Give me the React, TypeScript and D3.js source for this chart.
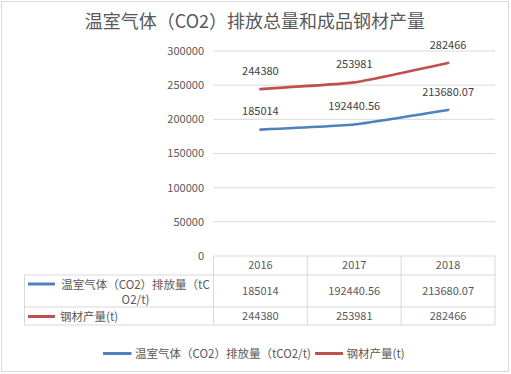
import React from "react";
import * as d3 from "d3";

const categories = ["2016", "2017", "2018"];
const co2Values = [185014, 192440.56, 213680.07];
const steelValues = [244380, 253981, 282466];
const co2Labels = ["185014", "192440.56", "213680.07"];
const steelLabels = ["244380", "253981", "282466"];
const yTicks = [0, 50000, 100000, 150000, 200000, 250000, 300000];
const title = "温室气体（CO2）排放总量和成品钢材产量";
const co2Name = "温室气体（CO2）排放量（tCO2/t)";
const co2NameLine1 = "温室气体（CO2）排放量（tC";
const co2NameLine2 = "O2/t)";
const steelName = "钢材产量(t)";

const FONT = "'Noto Sans CJK SC', 'Noto Sans', sans-serif";
const TXT = "#595959";
const GRID = "#d9d9d9";
const BLUE = "#4f81bd";
const RED = "#c0504d";

export default function App() {
  const W = 511, H = 374;
  const left = 213.5, right = 495, top = 51, bottom = 256;
  const x = d3.scaleBand().domain(categories).range([left, right]);
  const y = d3.scaleLinear().domain([0, 300000]).range([bottom, top]);
  const cx = (c: string) => (x(c) as number) + x.bandwidth() / 2;
  const line = d3
    .line<number>()
    .x((_, i) => cx(categories[i]))
    .y((d) => y(d))
    .curve(d3.curveCardinal.tension(0.6));

  const rowTop = bottom, r0 = 275, r1 = 307, r2 = 325;
  const tableLeft = 24.5;

  return (
    <svg width={W} height={H} style={{ position: "absolute", left: 0, top: 0 }} fontFamily={FONT}>
      <rect x={0} y={0} width={W} height={H} fill="#fff" />
      <rect x={1.5} y={1.5} width={507} height={370} fill="none" stroke={GRID} />
      <text x={255} y={28} textAnchor="middle" fontSize={18} fill={TXT}>{title}</text>

      {yTicks.map((t) => (
        <g key={t}>
          {t > 0 && <line x1={left} x2={right} y1={y(t)} y2={y(t)} stroke={GRID} />}
          <text x={204} y={y(t)} dy="0.35em" textAnchor="end" fontSize={11} fill={TXT}>{t}</text>
        </g>
      ))}

      {/* table */}
      <g stroke={GRID} fill="none">
        <line x1={left} x2={right} y1={rowTop} y2={rowTop} />
        <line x1={tableLeft} x2={right} y1={r0} y2={r0} />
        <line x1={tableLeft} x2={right} y1={r1} y2={r1} />
        <line x1={tableLeft} x2={right} y1={r2} y2={r2} />
        <line x1={tableLeft} x2={tableLeft} y1={r0} y2={r2} />
        {[...categories.map((c) => x(c) as number), right].map((v, i) => (
          <line key={i} x1={v} x2={v} y1={rowTop} y2={r2} />
        ))}
      </g>
      {categories.map((c, i) => (
        <g key={c} fontSize={11} fill={TXT} textAnchor="middle">
          <text x={cx(c)} y={(rowTop + r0) / 2} dy="0.35em">{c}</text>
          <text x={cx(c)} y={(r0 + r1) / 2} dy="0.35em">{co2Labels[i]}</text>
          <text x={cx(c)} y={(r1 + r2) / 2} dy="0.35em">{steelLabels[i]}</text>
        </g>
      ))}
      <line x1={28} x2={55} y1={284} y2={284} stroke={BLUE} strokeWidth={3} />
      <text x={135.5} y={285} dy="0.35em" textAnchor="middle" fontSize={11.5} fill={TXT}>{co2NameLine1}</text>
      <text x={135.5} y={299.5} dy="0.35em" textAnchor="middle" fontSize={11.5} fill={TXT}>{co2NameLine2}</text>
      <line x1={28} x2={55} y1={316.5} y2={316.5} stroke={RED} strokeWidth={3} />
      <text x={60} y={316.5} dy="0.35em" fontSize={11.5} fill={TXT}>{steelName}</text>

      {/* lines */}
      <path d={line(co2Values) || ""} fill="none" stroke={BLUE} strokeWidth={2.75} strokeLinecap="round" />
      <path d={line(steelValues) || ""} fill="none" stroke={RED} strokeWidth={2.75} strokeLinecap="round" />
      {categories.map((c, i) => (
        <g key={c} fontSize={11} fill="#404040" textAnchor="middle">
          <text x={cx(c)} y={y(co2Values[i]) - 18} dy="0.35em">{co2Labels[i]}</text>
          <text x={cx(c)} y={y(steelValues[i]) - 18} dy="0.35em">{steelLabels[i]}</text>
        </g>
      ))}

      {/* legend */}
      <line x1={103} x2={131.5} y1={353.5} y2={353.5} stroke={BLUE} strokeWidth={3} />
      <text x={135} y={353.5} dy="0.35em" fontSize={11.5} fill={TXT}>{co2Name}</text>
      <line x1={315} x2={343} y1={353.5} y2={353.5} stroke={RED} strokeWidth={3} />
      <text x={346.5} y={353.5} dy="0.35em" fontSize={11.5} fill={TXT}>{steelName}</text>
    </svg>
  );
}
